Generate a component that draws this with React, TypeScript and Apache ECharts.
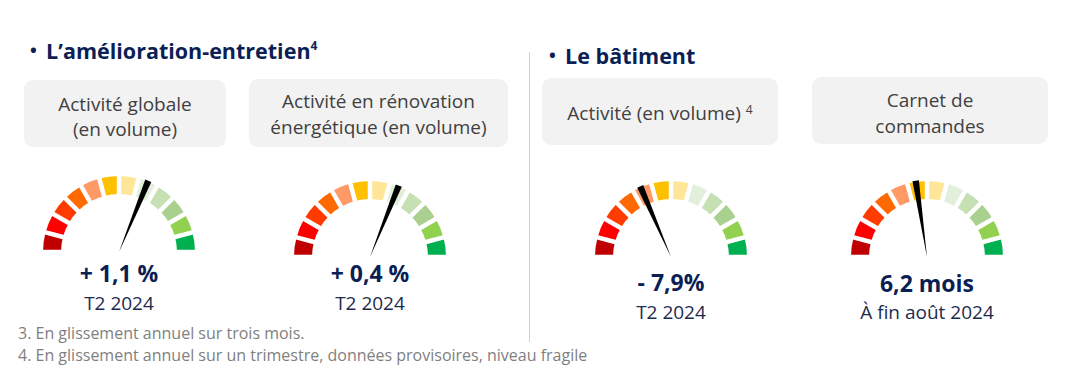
import React, { useEffect, useRef } from "react";
import * as echarts from "echarts";

// ---- Data ----
const sectionTitles = ["L’amélioration-entretien", "Le bâtiment"];
const sectionSup = ["4", ""];
const boxLabels: string[][] = [
  ["Activité globale", "(en volume)"],
  ["Activité en rénovation", "énergétique (en volume)"],
  ["Activité (en volume) "],
  ["Carnet de", "commandes"],
];
const boxSup = ["", "", "4", ""];
// needle position on a 0–100 dial
const gaugePositions = [62.4, 62.2, 36.9, 45.3];
const valueLabels = ["+ 1,1 %", "+ 0,4 %", "- 7,9%", "6,2 mois"];
const periodLabels = ["T2 2024", "T2 2024", "T2 2024", "À fin août 2024"];
const segmentColors = [
  "#c00000",
  "#ff0000",
  "#ff3b00",
  "#ff6a00",
  "#ff9966",
  "#ffc000",
  "#ffe699",
  "#e2efda",
  "#c6e0b4",
  "#a9d08e",
  "#92d050",
  "#00b050",
];
const footnotes = [
  "3. En glissement annuel sur trois mois.",
  "4. En glissement annuel sur un trimestre, données provisoires, niveau fragile",
];

// ---- Layout ----
const W = 1082;
const H = 366;
const FONT = "'Open Sans', 'Noto Sans', sans-serif";
const NAVY = "#0c1f55";
const gaugeCenters = [
  [119, 252],
  [370, 257],
  [671, 257],
  [927, 257],
];
const valueOffsets = [21, 16, 25, 26];
const periodOffsets = [50.5, 45.5, 54.5, 55];
const boxes = [
  [24, 80, 202, 67],
  [249, 79, 259, 68],
  [542, 78, 236, 67],
  [812, 77, 236, 67],
];
const boxLineY = [
  [104, 129],
  [101, 127],
  [113],
  [100, 126],
];
const titlePos = [
  [30, 50],
  [549, 55],
];

export default function App() {
  const ref = useRef<HTMLDivElement>(null);
  useEffect(() => {
    if (!ref.current) return;
    const chart = echarts.init(ref.current, null, { renderer: "svg" });

    const graphics: any[] = [];
    boxes.forEach((b, i) => {
      graphics.push({
        type: "rect",
        shape: { x: b[0], y: b[1], width: b[2], height: b[3], r: 9 },
        style: { fill: "#f2f2f2" },
        z: 0,
      });
      const cx = b[0] + b[2] / 2;
      boxLabels[i].forEach((line, j) => {
        const sup = j === boxLabels[i].length - 1 ? boxSup[i] : "";
        graphics.push({
          type: "text",
          z: 1,
          style: {
            text: sup ? `{t|${line}}{s|${sup}}` : `{t|${line}}`,
            x: cx,
            y: boxLineY[i][j],
            align: "center",
            verticalAlign: "middle",
            rich: {
              t: { fontSize: 19, fontFamily: FONT, fill: "#404040" },
              s: { fontSize: 12, fontFamily: FONT, fill: "#404040", verticalAlign: "top" },
            },
          },
        });
      });
    });

    sectionTitles.forEach((t, i) => {
      const sup = sectionSup[i];
      graphics.push({
        type: "text",
        z: 1,
        style: {
          text: `{b|•  }{t|${t}}` + (sup ? `{s|${sup}}` : ""),
          x: titlePos[i][0],
          y: titlePos[i][1],
          align: "left",
          verticalAlign: "middle",
          rich: {
            b: { fontSize: 18, fontFamily: FONT, fontWeight: "bold", fill: NAVY },
            t: { fontSize: 21.5, fontFamily: FONT, fontWeight: "bold", fill: NAVY },
            s: { fontSize: 12, fontFamily: FONT, fontWeight: "bold", fill: NAVY, verticalAlign: "top" },
          },
        },
      });
    });

    graphics.push({
      type: "line",
      shape: { x1: 529.5, y1: 52, x2: 529.5, y2: 342 },
      style: { stroke: "#d0d0d0", lineWidth: 1 },
    });

    footnotes.forEach((f, i) => {
      graphics.push({
        type: "text",
        style: {
          text: f,
          x: 18,
          y: 333 + i * 22,
          align: "left",
          verticalAlign: "middle",
          fontSize: 16,
          fontFamily: FONT,
          fill: "#7f7f7f",
        },
      });
    });

    const series = gaugePositions.map((v, i) => ({
      type: "gauge",
      center: gaugeCenters[i],
      radius: 76,
      startAngle: 180,
      endAngle: 0,
      min: 0,
      max: 100,
      splitNumber: 12,
      axisLine: {
        lineStyle: {
          width: 18,
          color: segmentColors.map((c, k) => [(k + 1) / segmentColors.length, c]),
        },
      },
      splitLine: {
        show: true,
        distance: -20,
        length: 22,
        lineStyle: { color: "#ffffff", width: 4.5 },
      },
      axisTick: { show: false },
      axisLabel: { show: false },
      pointer: {
        icon: "path://M0,0 L6,0 L3,100 Z",
        length: 77,
        width: 6.5,
        offsetCenter: [0, 0],
        itemStyle: { color: "#000000" },
      },
      anchor: { show: false },
      title: {
        offsetCenter: [0, periodOffsets[i]],
        fontSize: 19,
        fontFamily: FONT,
        color: "#1d2b4f",
      },
      detail: {
        offsetCenter: [0, valueOffsets[i]],
        formatter: () => valueLabels[i],
        fontSize: 23,
        fontWeight: "bold",
        fontFamily: FONT,
        color: NAVY,
      },
      data: [{ value: v, name: periodLabels[i] }],
    }));

    chart.setOption({
      animation: false,
      backgroundColor: "#ffffff",
      graphic: { elements: graphics },
      series,
    });
    return () => chart.dispose();
  }, []);
  return (
    <div
      ref={ref}
      style={{ position: "fixed", left: 0, top: 0, width: W, height: H }}
    />
  );
}
